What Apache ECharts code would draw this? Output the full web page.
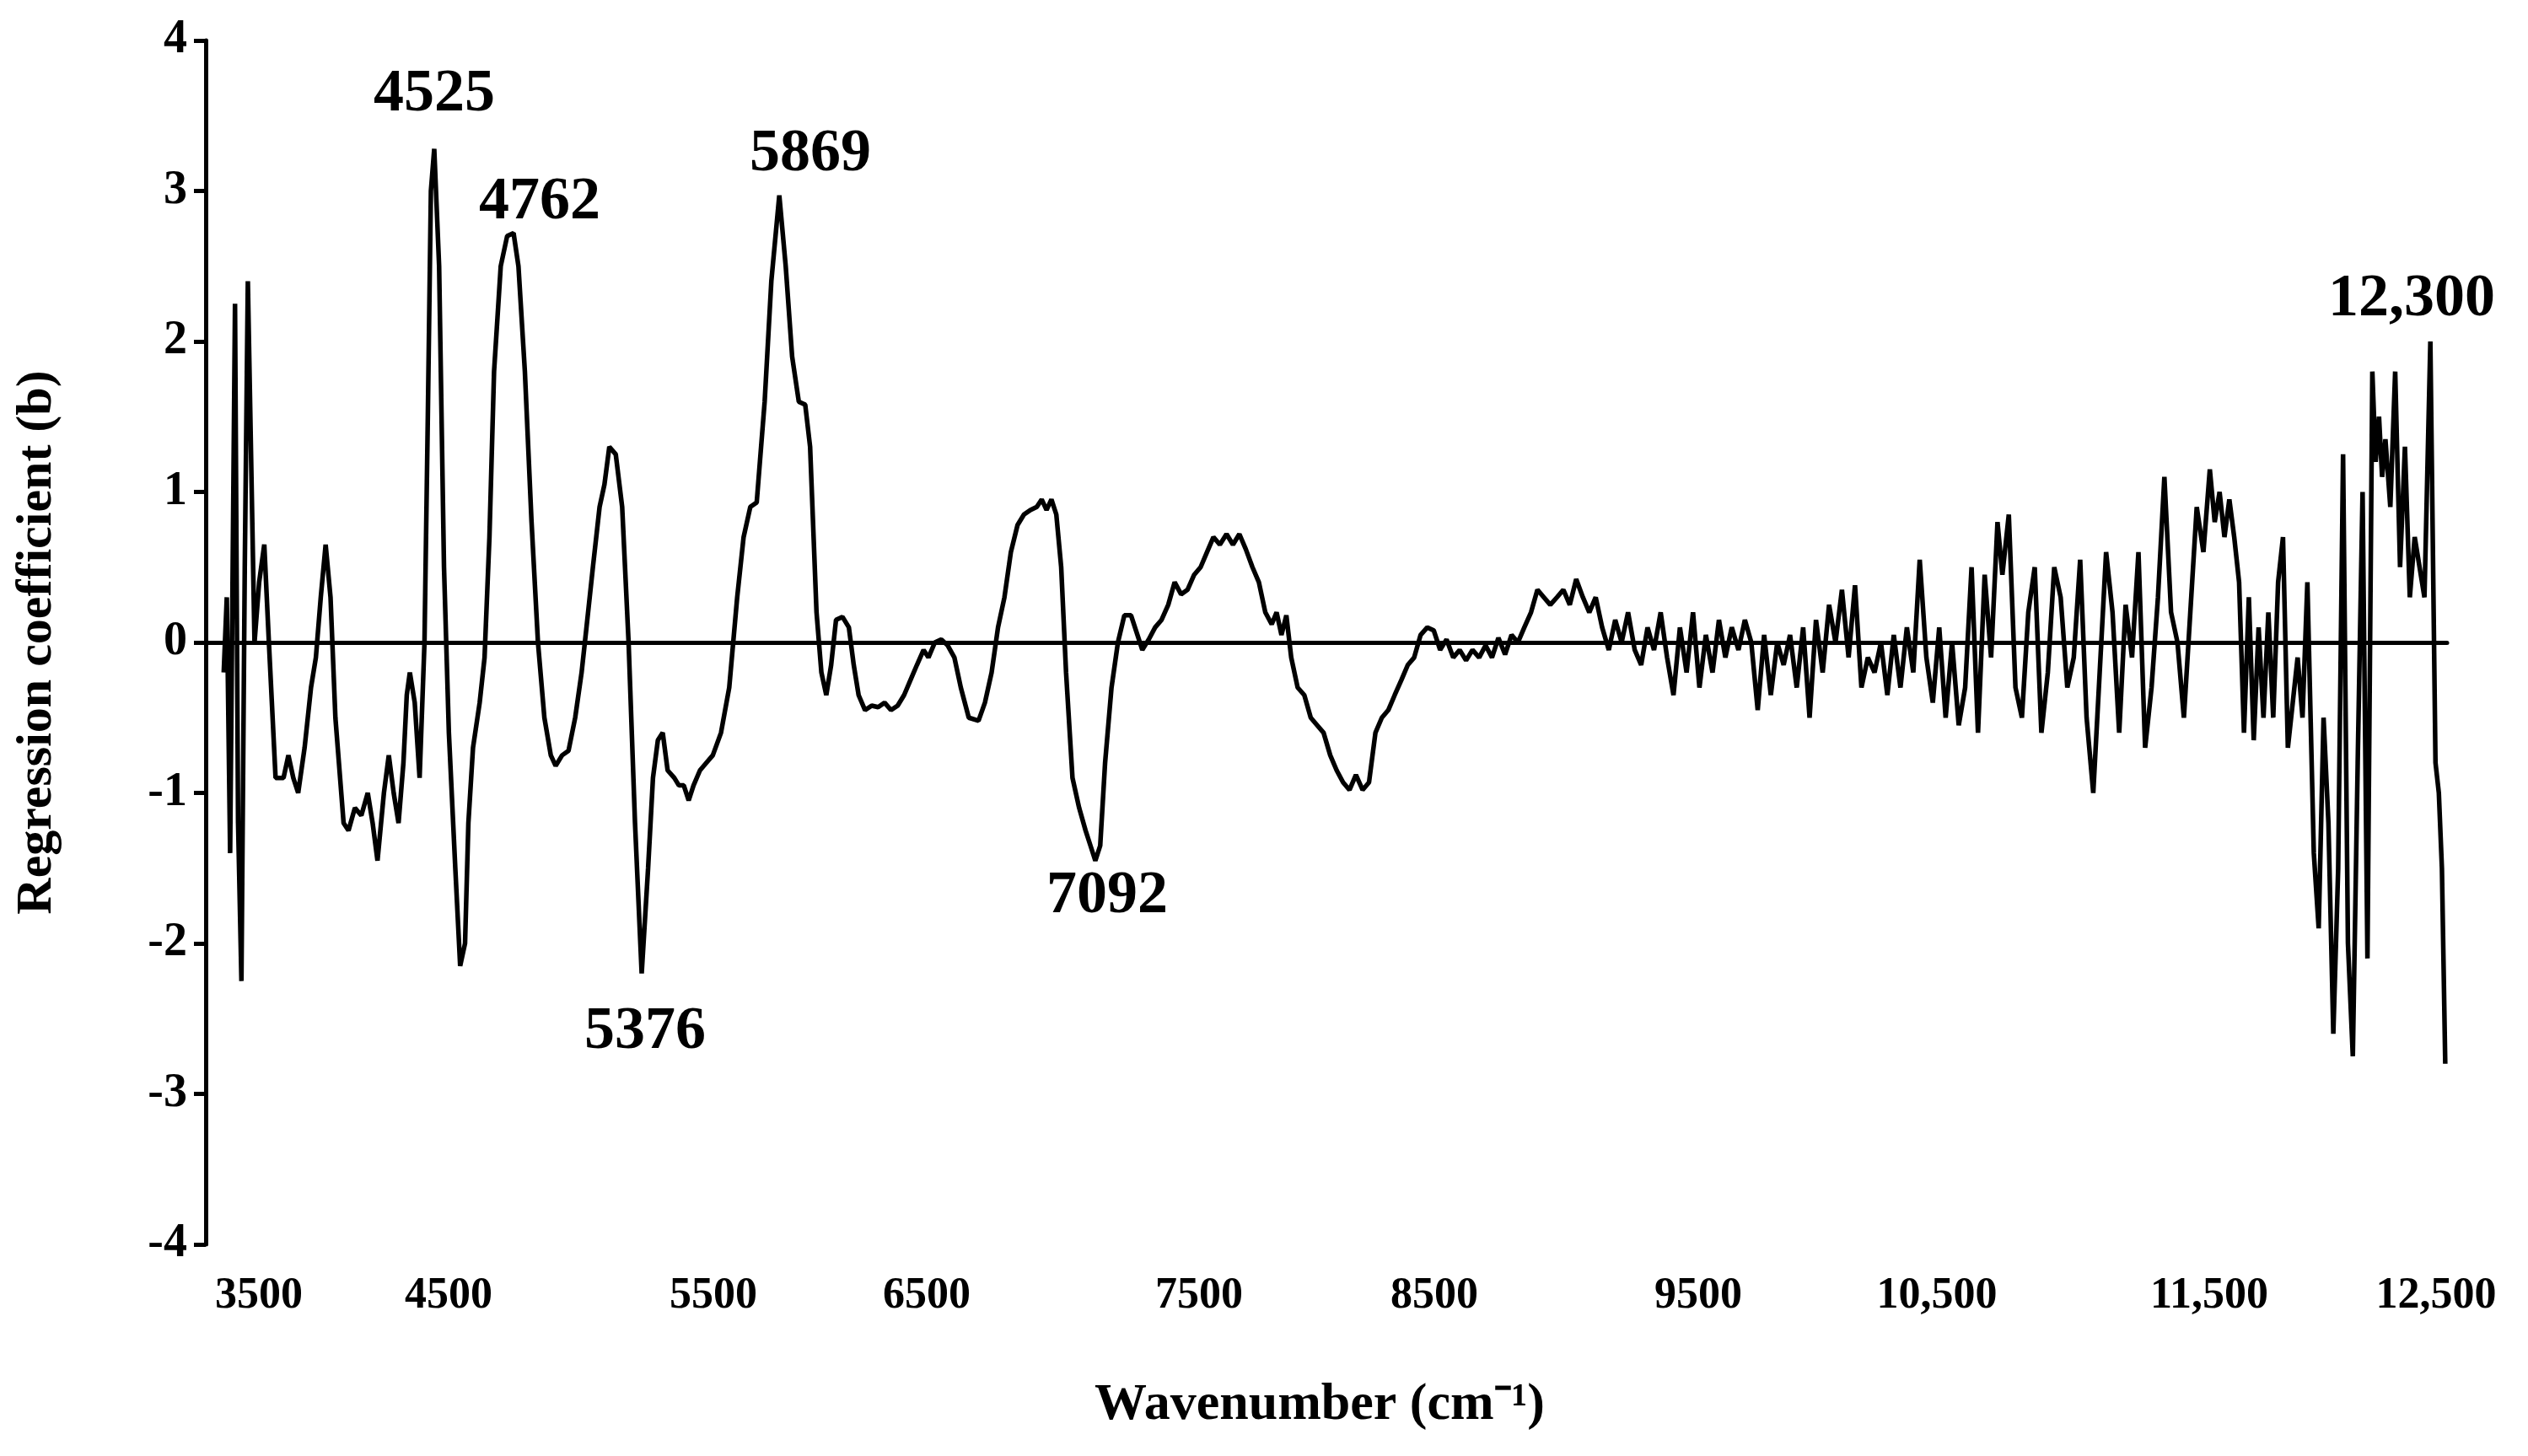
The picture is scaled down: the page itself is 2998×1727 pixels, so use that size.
<!DOCTYPE html>
<html>
<head>
<meta charset="utf-8">
<script src="https://cdn.jsdelivr.net/npm/echarts@6/dist/echarts.min.js"></script>
<style>html,body{margin:0;padding:0;background:#fff}#chart{width:2998px;height:1727px}</style>
</head>
<body>
<div id="chart"></div>
<script>
// wavenumber (cm-1) and regression coefficient
var wavenumber = [3705,3717,3730,3749,3761,3774,3787,3799,3825,3843,3863,3881,3907,3938,3957,3976,3995,4020,4045,4064,4083,4102,4121,4140,4172,4191,4216,4241,4266,4285,4304,4329,4348,4367,4386,4405,4418,4430,4449,4468,4487,4500,4512,4525,4544,4563,4582,4607,4626,4645,4658,4676,4702,4721,4740,4758,4784,4809,4834,4853,4878,4904,4929,4954,4979,4998,5023,5048,5074,5099,5118,5143,5169,5188,5207,5232,5257,5282,5307,5333,5358,5377,5396,5415,5434,5460,5478,5497,5516,5535,5560,5585,5610,5642,5674,5705,5730,5756,5781,5812,5838,5869,5894,5919,5945,5970,5989,6014,6033,6052,6071,6090,6115,6140,6159,6178,6203,6229,6254,6279,6304,6330,6355,6380,6405,6431,6450,6475,6500,6525,6551,6576,6607,6645,6670,6696,6721,6746,6771,6797,6822,6847,6872,6891,6910,6929,6948,6967,6986,7011,7037,7062,7081,7100,7119,7138,7163,7188,7213,7239,7264,7283,7308,7333,7358,7384,7409,7434,7459,7485,7510,7535,7560,7585,7611,7636,7661,7686,7712,7737,7762,7787,7806,7825,7844,7863,7888,7914,7939,7964,7989,8015,8040,8065,8090,8115,8141,8166,8191,8216,8241,8266,8292,8317,8342,8367,8393,8418,8443,8468,8494,8519,8544,8569,8595,8620,8645,8670,8696,8721,8746,8771,8797,8822,8847,8872,8898,8923,8948,8973,8999,9024,9049,9074,9100,9125,9150,9175,9201,9226,9251,9276,9302,9327,9352,9377,9403,9428,9453,9478,9504,9529,9554,9579,9605,9630,9655,9680,9705,9731,9756,9781,9806,9832,9857,9882,9907,9933,9958,9983,10008,10034,10059,10084,10109,10135,10160,10185,10210,10236,10261,10286,10311,10337,10362,10387,10412,10437,10463,10488,10513,10538,10564,10589,10614,10633,10658,10684,10709,10734,10759,10785,10810,10835,10860,10886,10911,10936,10961,10987,11012,11037,11062,11088,11113,11138,11163,11189,11214,11239,11264,11290,11315,11340,11365,11390,11416,11441,11460,11479,11498,11517,11536,11555,11574,11593,11612,11631,11650,11669,11688,11707,11726,11745,11764,11783,11802,11821,11846,11865,11884,11903,11922,11941,11960,11979,11998,12017,12036,12055,12074,12087,12100,12112,12125,12144,12163,12182,12201,12220,12239,12258,12277,12300,12320,12333,12345,12358];
var coefficient = [-0.2,0.3,-1.4,2.25,-1.2,-2.25,0.5,2.4,0,0.4,0.65,0,-0.9,-0.9,-0.75,-0.9,-1,-0.7,-0.3,-0.1,0.3,0.65,0.3,-0.5,-1.2,-1.25,-1.1,-1.15,-1,-1.2,-1.45,-1,-0.75,-1,-1.2,-0.8,-0.35,-0.2,-0.4,-0.9,0,1.5,3,3.28,2.5,0.5,-0.6,-1.5,-2.15,-2,-1.2,-0.7,-0.4,-0.1,0.7,1.8,2.5,2.7,2.72,2.5,1.8,0.8,0,-0.5,-0.75,-0.82,-0.75,-0.72,-0.5,-0.2,0.1,0.5,0.9,1.05,1.3,1.25,0.9,0,-1.2,-2.2,-1.5,-0.9,-0.65,-0.6,-0.85,-0.9,-0.95,-0.95,-1.05,-0.95,-0.85,-0.8,-0.75,-0.6,-0.3,0.3,0.7,0.9,0.93,1.6,2.4,2.97,2.5,1.9,1.6,1.58,1.3,0.2,-0.2,-0.35,-0.15,0.15,0.17,0.1,-0.15,-0.35,-0.45,-0.42,-0.43,-0.4,-0.45,-0.42,-0.35,-0.25,-0.15,-0.05,-0.1,0,0.02,-0.02,-0.1,-0.3,-0.5,-0.52,-0.4,-0.2,0.1,0.3,0.6,0.78,0.85,0.88,0.9,0.95,0.88,0.95,0.85,0.5,-0.2,-0.9,-1.1,-1.25,-1.35,-1.45,-1.35,-0.8,-0.3,0,0.18,0.18,0.05,-0.05,0.02,0.1,0.15,0.25,0.4,0.32,0.35,0.45,0.5,0.6,0.7,0.65,0.72,0.65,0.72,0.62,0.5,0.4,0.2,0.12,0.2,0.05,0.18,-0.1,-0.3,-0.35,-0.5,-0.55,-0.6,-0.75,-0.85,-0.93,-0.98,-0.88,-0.98,-0.93,-0.6,-0.5,-0.45,-0.35,-0.25,-0.15,-0.1,0.05,0.1,0.08,-0.05,0.02,-0.1,-0.05,-0.12,-0.05,-0.1,-0.02,-0.1,0.03,-0.08,0.05,0,0.1,0.2,0.35,0.3,0.25,0.3,0.35,0.25,0.42,0.3,0.2,0.3,0.1,-0.05,0.15,0,0.2,-0.05,-0.15,0.1,-0.05,0.2,-0.1,-0.35,0.1,-0.2,0.2,-0.3,0.05,-0.2,0.15,-0.1,0.1,-0.05,0.15,0,-0.45,0.05,-0.35,0,-0.15,0.05,-0.3,0.1,-0.5,0.15,-0.2,0.25,0,0.35,-0.1,0.38,-0.3,-0.1,-0.2,0,-0.35,0.05,-0.3,0.1,-0.2,0.55,-0.1,-0.4,0.1,-0.5,0,-0.55,-0.3,0.5,-0.6,0.45,-0.1,0.8,0.45,0.85,-0.3,-0.5,0.2,0.5,-0.6,-0.2,0.5,0.3,-0.3,-0.1,0.55,-0.5,-1,-0.2,0.6,0.2,-0.6,0.25,-0.1,0.6,-0.7,-0.3,0.3,1.1,0.2,0,-0.5,0.2,0.9,0.6,1.15,0.8,1,0.7,0.95,0.7,0.4,-0.6,0.3,-0.65,0.1,-0.5,0.2,-0.5,0.4,0.7,-0.7,-0.4,-0.1,-0.5,0.4,-1.4,-1.9,-0.5,-1.2,-2.6,-1.5,1.25,-2,-2.75,-0.8,1,-2.1,1.8,1.2,1.5,1.1,1.35,0.9,1.8,0.5,1.3,0.3,0.7,0.5,0.3,2,-0.8,-1,-1.5,-2.8];
var yTicks = [-4, 4, 1];
var xTickLabels = ['3500','4500','5500','6500','7500','8500','9500','10,500','11,500','12,500'];
var xTickPx = [307,532,846,1099,1422,1701,2014,2297,2620,2889];
var peakLabels = ['4525','4762','5869','5376','7092','12,300'];
var peakPx = [[515,112],[640,240],[961,183],[765,1224],[1313,1063],[2860,355]];

var font = '"Liberation Serif", "Times New Roman", serif';
var points = wavenumber.map(function (w, i) { return [w, coefficient[i]]; });

var graphics = xTickLabels.map(function (t, i) {
    return {type: 'text', x: xTickPx[i], y: 1538, style: {text: t, font: 'bold 52px ' + font, fill: '#000', textAlign: 'center', textVerticalAlign: 'middle'}};
}).concat(peakLabels.map(function (t, i) {
    return {type: 'text', x: peakPx[i][0], y: peakPx[i][1], style: {text: t, font: 'bold 72px ' + font, fill: '#000', textAlign: 'center', textVerticalAlign: 'middle'}};
}));
graphics.push({type: 'text', x: 1565, y: 1667, style: {text: 'Wavenumber (cm\u207B\u00B9)', font: 'bold 62px ' + font, fill: '#000', textAlign: 'center', textVerticalAlign: 'middle'}});

var chart = echarts.init(document.getElementById('chart'));
chart.setOption({
    backgroundColor: '#fff',
    animation: false,
    grid: {left: 244, right: 96, top: 48, bottom: 251},
    xAxis: {
        type: 'value', min: 3635, max: 12365,
        axisLine: {onZero: true, lineStyle: {color: '#000', width: 5}},
        axisTick: {show: false},
        axisLabel: {show: false},
        splitLine: {show: false}
    },
    yAxis: {
        type: 'value', min: yTicks[0], max: yTicks[1], interval: yTicks[2],
        name: 'Regression coefficient (b)', nameLocation: 'middle', nameGap: 170,
        nameTextStyle: {fontFamily: font, fontWeight: 'bold', fontSize: 60, color: '#000'},
        axisLine: {show: true, onZero: false, lineStyle: {color: '#000', width: 5}},
        axisTick: {show: true, length: 14, lineStyle: {color: '#000', width: 5}},
        axisLabel: {fontFamily: font, fontWeight: 'bold', fontSize: 56, color: '#000', margin: 22},
        splitLine: {show: false}
    },
    series: [{
        type: 'line', data: points, showSymbol: false,
        lineStyle: {color: '#000', width: 5.5}
    }],
    graphic: graphics
});
</script>
</body>
</html>
